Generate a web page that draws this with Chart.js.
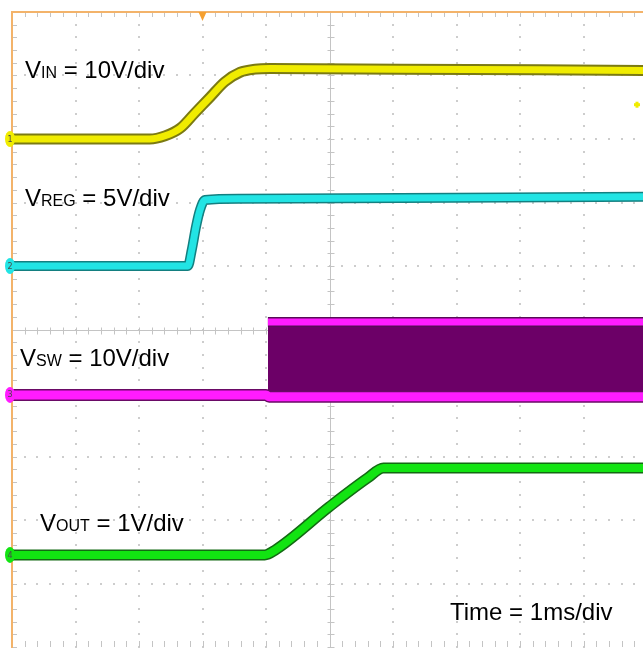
<!DOCTYPE html>
<html lang="en">
<head>
<meta charset="UTF-8">
<title>Start-up waveforms</title>
<script src="https://cdn.jsdelivr.net/npm/chart.js"></script>
<style>
    html, body { margin: 0; padding: 0; background: #ffffff; }
    .wrap { position: relative; width: 643px; height: 648px; overflow: hidden; }
    canvas { position: absolute; left: 0; top: 0; }
    .lbl { position: absolute; font-family: "Liberation Sans", Arial, sans-serif; font-size: 24px; line-height: 24px; color: #000; white-space: nowrap; }
    .lbl span { font-size: 16px; }
</style>
</head>
<body>
<div class="wrap">
    <canvas id="scope" width="643" height="648"></canvas>
    <div class="lbl" style="left:25px; top:58px;">V<span>IN</span> = 10V/div</div>
    <div class="lbl" style="left:25px; top:186px;">V<span>REG</span> = 5V/div</div>
    <div class="lbl" style="left:20px; top:346px;">V<span>SW</span> = 10V/div</div>
    <div class="lbl" style="left:40px; top:511px;">V<span>OUT</span> = 1V/div</div>
    <div class="lbl" style="left:450px; top:600px;">Time = 1ms/div</div>
</div>

<script>
    // time in ms (1 ms/div), levels in screen divisions (0 = centre line)
    const vinTime  = [0, 2.17, 2.41, 2.65, 2.88, 3.12, 3.35, 3.59, 3.83, 4.06, 6.11, 9.94];
    const vinLevel = [3.00, 3.00, 3.05, 3.17, 3.41, 3.66, 3.90, 4.05, 4.10, 4.11, 4.10, 4.08];

    const vregTime  = [0, 2.77, 2.83, 2.90, 2.96, 3.04, 3.59, 9.94];
    const vregLevel = [1.00, 1.00, 1.25, 1.63, 1.88, 2.04, 2.06, 2.09];

    const vswLowTime  = [0, 4.00, 4.05, 9.94];
    const vswLowLevel = [-1.03, -1.03, -1.06, -1.06];
    const vswHighTime  = [4.03, 9.94];
    const vswHighLevel = [0.12, 0.12];

    const voutTime  = [0, 3.98, 4.15, 5.00, 5.60, 5.85, 9.94];
    const voutLevel = [-3.55, -3.55, -3.47, -2.79, -2.34, -2.18, -2.18];

    const channels = [
        { name: '1', level: vinLevel[0],    color: '#f0ec00' },
        { name: '2', level: vregLevel[0],   color: '#22e4e4' },
        { name: '3', level: vswLowLevel[0], color: '#ff1cff' },
        { name: '4', level: voutLevel[0],   color: '#12e412' }
    ];

    function pts(t, v) { return t.map((x, i) => ({ x: x, y: v[i] })); }

    function trace(t, v, color, width, order) {
        return {
            data: pts(t, v),
            borderColor: color,
            borderWidth: width,
            pointRadius: 0,
            fill: false,
            cubicInterpolationMode: 'monotone',
            borderCapStyle: 'butt',
            borderJoinStyle: 'round',
            order: order
        };
    }

    const scopeGrid = {
        id: 'scopeGrid',
        beforeDatasetsDraw(chart) {
            const { ctx, chartArea: a, scales: { x, y } } = chart;
            ctx.save();
            // dotted divisions
            ctx.fillStyle = '#cdcdcd';
            for (let i = 1; i < 10; i++) {
                if (i === 5) continue;
                const px = x.getPixelForValue(i);
                for (let j = 0; j <= 50; j++) {
                    const py = y.getPixelForValue(-5 + j * 0.2);
                    ctx.fillRect(Math.round(px) - 1, Math.round(py) - 1, 2, 2);
                }
            }
            for (let i = -4; i <= 4; i++) {
                if (i === 0) continue;
                const py = y.getPixelForValue(i);
                for (let j = 0; j <= 50; j++) {
                    const px = x.getPixelForValue(j * 0.2);
                    ctx.fillRect(Math.round(px) - 1, Math.round(py) - 1, 2, 2);
                }
            }
            // centre cross with minor ticks
            const cx = Math.round(x.getPixelForValue(5)) + 0.5;
            const cy = Math.round(y.getPixelForValue(0)) + 0.5;
            ctx.strokeStyle = '#bdb4a2';
            ctx.lineWidth = 1;
            ctx.beginPath();
            ctx.moveTo(cx, a.top); ctx.lineTo(cx, a.bottom);
            ctx.moveTo(a.left, cy); ctx.lineTo(a.right, cy);
            for (let j = 0; j <= 50; j++) {
                const py = Math.round(y.getPixelForValue(-5 + j * 0.2)) + 0.5;
                ctx.moveTo(cx - 3, py); ctx.lineTo(cx + 4, py);
                const px = Math.round(x.getPixelForValue(j * 0.2)) + 0.5;
                ctx.moveTo(px, cy - 3); ctx.lineTo(px, cy + 4);
            }
            // border ticks
            ctx.strokeStyle = '#c4c4c4';
            for (let j = 1; j <= 50; j++) {
                const px = Math.round(x.getPixelForValue(j * 0.2)) + 0.5;
                ctx.moveTo(px, a.top); ctx.lineTo(px, a.top + 5);
                ctx.moveTo(px, a.bottom); ctx.lineTo(px, a.bottom - 6);
                const py = Math.round(y.getPixelForValue(5 - j * 0.2)) + 0.5;
                ctx.moveTo(a.left, py); ctx.lineTo(a.left + 5, py);
            }
            ctx.stroke();
            // orange frame
            ctx.strokeStyle = '#f3b36a';
            ctx.lineWidth = 2;
            ctx.beginPath();
            ctx.moveTo(a.left, a.bottom + 2); ctx.lineTo(a.left, a.top); ctx.lineTo(a.right + 2, a.top);
            ctx.stroke();
            ctx.restore();
        },
        afterDatasetsDraw(chart) {
            const { ctx, chartArea: a, scales: { x, y } } = chart;
            ctx.save();
            // channel reference markers
            channels.forEach(c => {
                const py = y.getPixelForValue(c.level);
                ctx.fillStyle = c.color;
                ctx.beginPath();
                ctx.ellipse(a.left - 2, py, 5, 8, 0, 0, Math.PI * 2);
                ctx.fill();
                ctx.fillStyle = '#4a4a4a';
                ctx.font = '8px "DejaVu Sans"';
                ctx.textAlign = 'center';
                ctx.textBaseline = 'middle';
                ctx.fillText(c.name, a.left - 2, py + 0.5);
            });
            // trigger position
            const tx = x.getPixelForValue(3.0);
            ctx.fillStyle = '#f5a030';
            ctx.beginPath();
            ctx.moveTo(tx - 4, a.top); ctx.lineTo(tx + 4, a.top); ctx.lineTo(tx, a.top + 9);
            ctx.closePath();
            ctx.fill();
            // trigger level
            const ty = y.getPixelForValue(3.54);
            ctx.fillStyle = '#f0ec00';
            ctx.fillRect(a.right - 9, ty - 1.5, 6, 3);
            ctx.fillRect(a.right - 7.5, ty - 3, 3, 6);
            ctx.restore();
        }
    };

    const ctx = document.getElementById('scope').getContext('2d');
    const scope = new Chart(ctx, {
        type: 'line',
        data: {
            datasets: [
                trace(vinTime, vinLevel, '#f0ec00', 7, 1),
                trace(vregTime, vregLevel, '#22e4e4', 7, 1),
                trace(vswLowTime, vswLowLevel, '#ff1cff', 9, 1),
                trace(vswHighTime, vswHighLevel, '#ff1cff', 7, 1),
                trace(voutTime, voutLevel, '#12e412', 8, 1),
                trace(vinTime, vinLevel, '#7b7a12', 11, 5),
                trace(vregTime, vregLevel, '#137f80', 10, 5),
                trace(vswLowTime, vswLowLevel, '#6a0a66', 12, 5),
                trace(vswHighTime, vswHighLevel, '#5a0a58', 10, 5),
                trace(voutTime, voutLevel, '#136a13', 11, 5),
                {
                    data: pts(vswHighTime, vswHighLevel),
                    borderWidth: 0,
                    pointRadius: 0,
                    backgroundColor: '#6c0067',
                    fill: { value: vswLowLevel[vswLowLevel.length - 1] },
                    order: 10
                }
            ]
        },
        options: {
            responsive: false,
            animation: false,
            layout: { padding: { left: 12, top: 12, right: 0, bottom: 1 } },
            scales: {
                x: { type: 'linear', min: 0, max: 9.937, display: false },
                y: { type: 'linear', min: -5, max: 5, display: false }
            },
            plugins: {
                legend: { display: false },
                tooltip: { enabled: false }
            }
        },
        plugins: [scopeGrid]
    });
</script>
</body>
</html>
